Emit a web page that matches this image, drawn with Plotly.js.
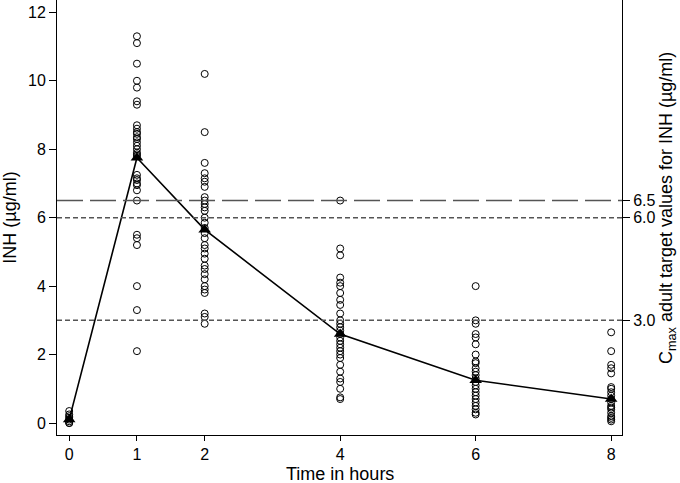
<!DOCTYPE html>
<html>
<head>
<meta charset="utf-8">
<script src="https://cdn.plot.ly/plotly-3.0.1.min.js"></script>
<style>html,body{margin:0;padding:0;background:#fff;}#chart{width:680px;height:483px;}</style>
</head>
<body>
<div id="chart"></div>
<script>
// Individual concentrations (µg/ml) per sampling time (hours)
const t0 = [0.35, 0.25, 0.2, 0.15, 0.1, 0.05, 0.0, 0.0];
const t1 = [11.3, 11.1, 10.5, 10.0, 9.8, 9.4, 9.3, 8.7, 8.6, 8.5, 8.45, 8.35, 8.3, 8.2, 8.1, 8.0, 7.9, 7.85, 7.8, 7.25, 7.15, 7.1, 7.0, 6.95, 6.8, 6.5, 5.5, 5.4, 5.2, 4.0, 3.3, 2.1];
const t2 = [10.2, 8.5, 7.6, 7.3, 7.15, 7.05, 6.9, 6.6, 6.5, 6.4, 6.3, 6.2, 6.0, 5.85, 5.7, 5.55, 5.4, 5.2, 5.1, 4.95, 4.8, 4.6, 4.5, 4.35, 4.2, 4.0, 3.9, 3.8, 3.2, 3.1, 2.9];
const t4 = [6.5, 5.1, 4.9, 4.25, 4.1, 4.0, 3.8, 3.6, 3.45, 3.2, 3.0, 2.9, 2.8, 2.7, 2.6, 2.5, 2.4, 2.3, 2.2, 2.1, 2.0, 1.9, 1.7, 1.5, 1.3, 1.2, 1.0, 0.75, 0.7];
const t6 = [4.0, 3.0, 2.9, 2.6, 2.5, 2.3, 2.0, 1.8, 1.75, 1.6, 1.5, 1.4, 1.3, 1.2, 1.1, 1.0, 0.9, 0.8, 0.7, 0.6, 0.5, 0.4, 0.3, 0.25];
const t8 = [2.65, 2.1, 1.7, 1.6, 1.45, 1.05, 1.0, 0.9, 0.8, 0.7, 0.6, 0.5, 0.45, 0.4, 0.3, 0.2, 0.15, 0.1, 0.05];
const times = [0, 1, 2, 4, 6, 8];
const meanConc = [0.1, 7.75, 5.65, 2.6, 1.25, 0.7];
const targets = [6.5, 6.0, 3.0];
const targetLabels = ["6.5", "6.0", "3.0"];
const yTicks = [0, 2, 4, 6, 8, 10, 12];
const xTicks = [0, 1, 2, 4, 6, 8];

const groups = [t0, t1, t2, t4, t6, t8];
const sx = [], sy = [];
groups.forEach((g, i) => g.forEach(v => { sx.push(times[i]); sy.push(v); }));

const fam = "Liberation Sans, Arial, sans-serif";
const tickFont = {family: fam, size: 16, color: "#000"};
const titleFont = {family: fam, size: 18, color: "#000"};

const traces = [
  {x: sx, y: sy, type: "scatter", mode: "markers",
   marker: {symbol: "circle-open", size: 7, color: "#000", line: {width: 1, color: "#000"}},
   hoverinfo: "skip", showlegend: false},
  {x: times, y: meanConc, type: "scatter", mode: "lines+markers",
   line: {color: "#000", width: 1.6},
   marker: {symbol: "triangle-up", size: 11, color: "#000"},
   showlegend: false},
  {x: [0], y: [0], yaxis: "y2", type: "scatter", mode: "markers",
   marker: {opacity: 0}, hoverinfo: "skip", showlegend: false}
];

const dashes = ["26px,7px", "5px,3px", "5px,3px"];
const shapes = targets.map((v, i) => ({
  type: "line", xref: "paper", x0: 0, x1: 1, yref: "y", y0: v, y1: v,
  line: {color: "#555", width: 1.5, dash: dashes[i]}
}));

const layout = {
  width: 680, height: 483,
  margin: {l: 57, r: 58, t: 0, b: 48},
  paper_bgcolor: "#fff", plot_bgcolor: "#fff",
  font: tickFont,
  showlegend: false,
  xaxis: {
    range: [-0.18, 8.16], tickvals: xTicks, ticktext: xTicks.map(String),
    ticks: "outside", ticklen: 5, tickcolor: "#000", tickwidth: 1,
    showline: true, linecolor: "#000", linewidth: 1, mirror: false,
    showgrid: false, zeroline: false,
    tickfont: tickFont
  },
  yaxis: {
    range: [-0.35, 12.36], tickvals: yTicks, ticktext: yTicks.map(String),
    ticks: "outside", ticklen: 7, tickcolor: "#000", tickwidth: 1,
    showline: true, linecolor: "#000", linewidth: 1,
    showgrid: false, zeroline: false,
    title: {text: "INH (µg/ml)", font: titleFont, standoff: 9},
    tickfont: tickFont
  },
  yaxis2: {
    overlaying: "y", side: "right", anchor: "x",
    range: [-0.35, 12.36], tickvals: targets, ticktext: targetLabels,
    ticks: "outside", ticklen: 7, tickcolor: "#000", tickwidth: 1,
    showline: true, linecolor: "#000", linewidth: 1,
    showgrid: false, zeroline: false,
    tickfont: tickFont
  },
  annotations: [
    {text: "Time in hours", xref: "paper", yref: "paper", x: 0.5, y: -0.09,
     xanchor: "center", yanchor: "middle", showarrow: false, font: titleFont},
    {text: "C<sub>max</sub> adult target values for INH (µg/ml)", xref: "paper", yref: "paper",
     x: 1.0814, y: 0.522, textangle: -90, xanchor: "center", yanchor: "middle",
     showarrow: false, font: titleFont}
  ],
  shapes: shapes
};

Plotly.newPlot("chart", traces, layout, {staticPlot: true, displayModeBar: false});
</script>
</body>
</html>
